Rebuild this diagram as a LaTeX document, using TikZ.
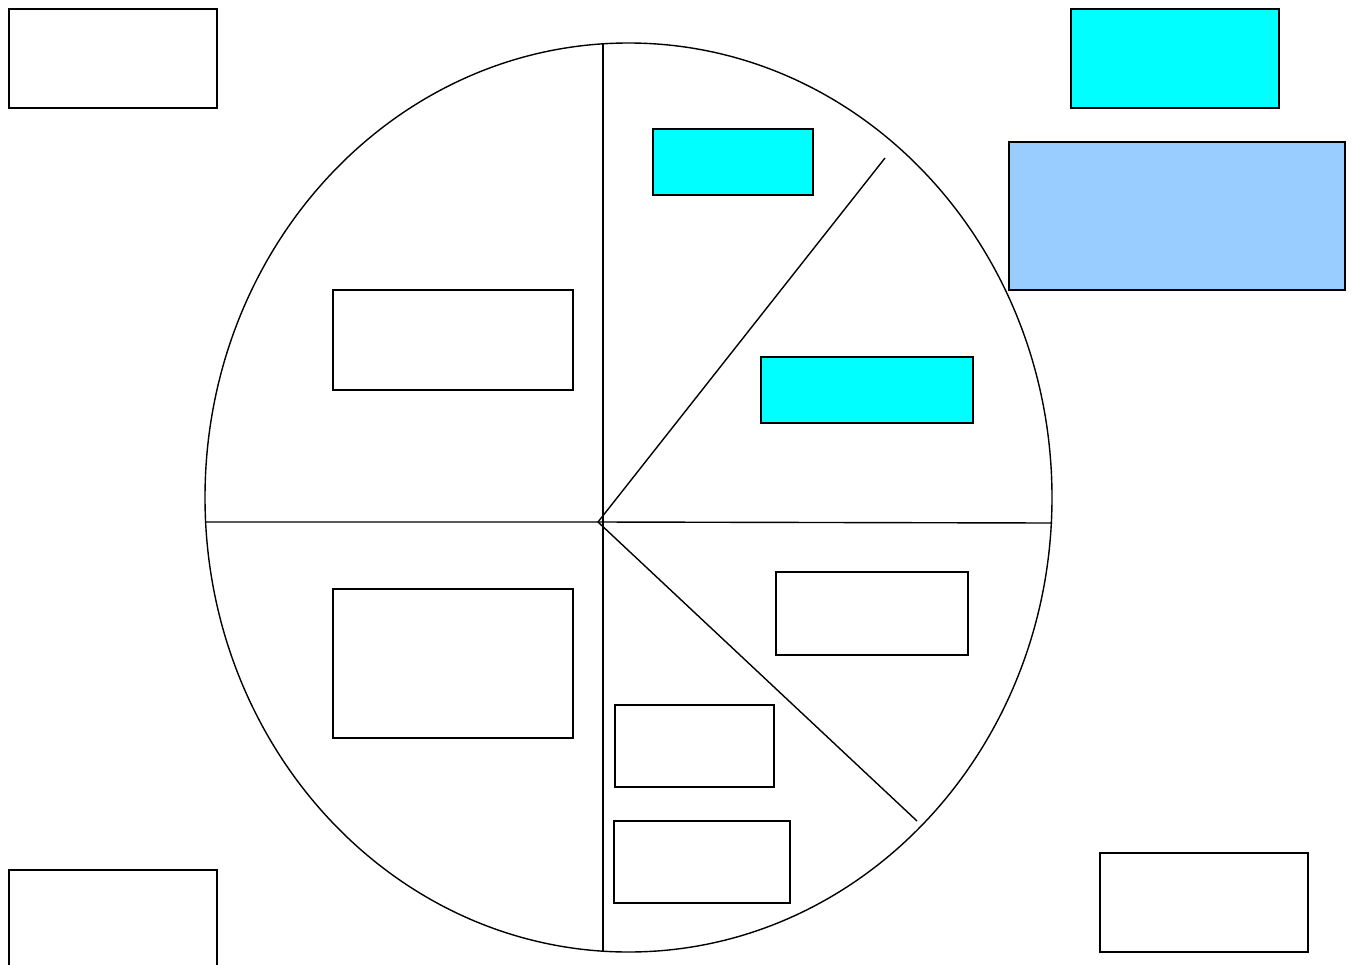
\documentclass[tikz,border=0pt]{standalone}
\usetikzlibrary{shapes.geometric}
\definecolor{cyanbox}{HTML}{00FFFF}
\definecolor{bluebox}{HTML}{99CCFF}
\begin{document}
\begin{tikzpicture}[x=1pt,y=-1pt,line width=1.4pt,
  box/.style={draw=black,fill=white},
  cbox/.style={draw=black,fill=cyanbox},
  bbox/.style={draw=black,fill=bluebox}]
\path[use as bounding box,clip] (0,0) rectangle (1354,964);
\fill[white] (0,0) rectangle (1354,964);
\node[ellipse,draw,inner sep=0pt,outer sep=0pt,minimum width=847pt,minimum height=909pt] (circ) at (628.5,497.5) {};
\coordinate (c) at (598,522);
\coordinate (vt) at (603,43);
\coordinate (vb) at (603,952);
\coordinate (hl) at (205,522);
\coordinate (hr) at (1052,523);
\coordinate (du) at (885,158);
\coordinate (dd) at (917,821);
\draw (vt) -- (vb);
\draw (hl) -- (c) -- (hr);
\draw (du) -- (c) -- (dd);
\draw[box] (9,9) rectangle (217,108) coordinate (b1);
\draw[cbox] (1071,9) rectangle (1279,108) coordinate (b2);
\draw[bbox] (1009,142) rectangle (1345,290) coordinate (b3);
\draw[cbox] (653,129) rectangle (813,195) coordinate (b4);
\draw[box] (333,290) rectangle (573,390) coordinate (b5);
\draw[cbox] (761,357) rectangle (973,423) coordinate (b6);
\draw[box] (776,572) rectangle (968,655) coordinate (b7);
\draw[box] (333,589) rectangle (573,738) coordinate (b8);
\draw[box] (615,705) rectangle (774,787) coordinate (b9);
\draw[box] (614,821) rectangle (790,903) coordinate (b10);
\draw[box] (1100,853) rectangle (1308,952) coordinate (b11);
\draw[box] (9,870) rectangle (217,990) coordinate (b12);
\end{tikzpicture}
\end{document}
